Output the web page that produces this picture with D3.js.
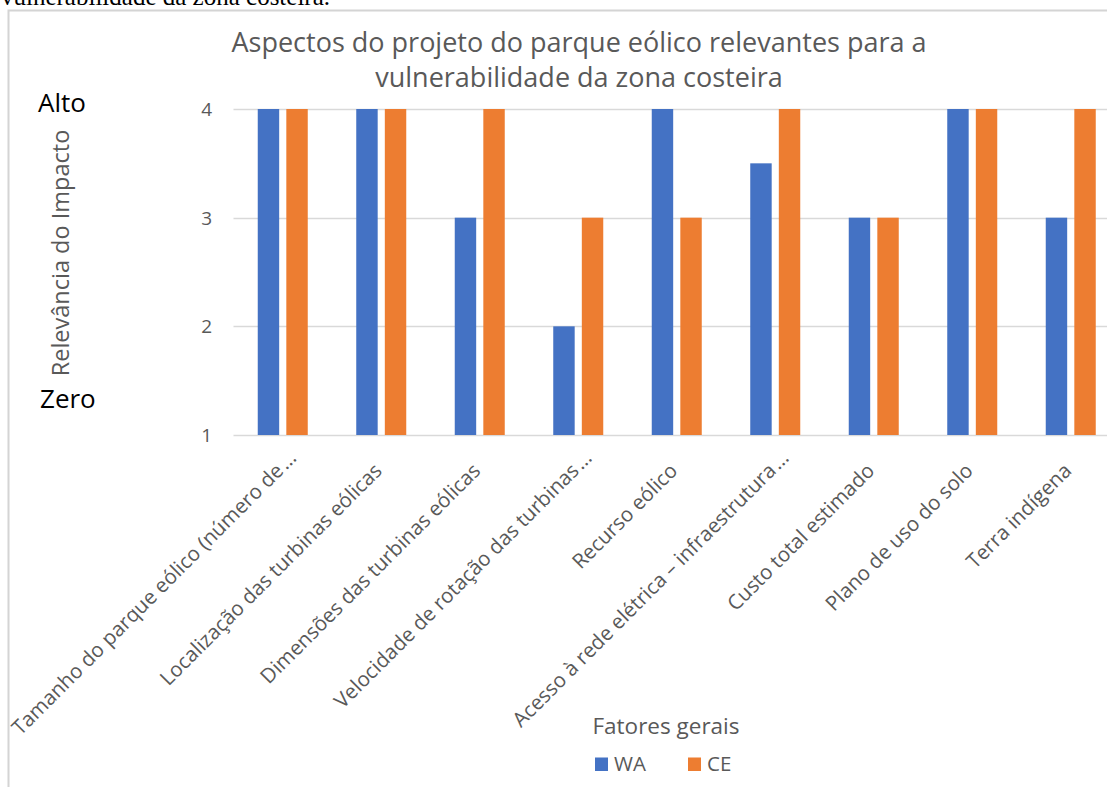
<!DOCTYPE html>
<html>
<head>
<meta charset="utf-8">
<script src="https://cdn.jsdelivr.net/npm/d3@7"></script>
<style>
  html, body { margin: 0; padding: 0; background: #fff; }
  svg { display: block; }
</style>
</head>
<body>
<div id="chart"></div>
<script>
// Data
const categories = [
  'Tamanho do parque eólico (número de...',
  'Localização das turbinas eólicas',
  'Dimensões das turbinas eólicas',
  'Velocidade de rotação das turbinas...',
  'Recurso eólico',
  'Acesso à rede elétrica – infraestrutura...',
  'Custo total estimado',
  'Plano de uso do solo',
  'Terra indígena'
];
const seriesNames = ['WA', 'CE'];
const waValues = [4, 4, 3, 2, 4, 3.5, 3, 4, 3];
const ceValues = [4, 4, 4, 3, 3, 4, 3, 4, 4];
const yTicks = [1, 2, 3, 4];

// Configuration
const config = {
  width: 1107,
  height: 787,
  plot: { left: 233.5, right: 1120, top: 109, bottom: 435 },
  groupWidth: 50,
  colors: { WA: '#4472C4', CE: '#ED7D31' },
  grid: '#d9d9d9',
  text: '#595959',
  font: '"Open Sans", Lato, sans-serif'
};

const svg = d3.select('#chart')
  .append('svg')
  .attr('width', config.width)
  .attr('height', config.height);

// Caption fragment cut off at the top of the picture
svg.append('text')
  .attr('x', 1)
  .attr('y', 5)
  .attr('font-family', '"Liberation Serif", "Times New Roman", serif')
  .attr('font-size', '25px')
  .attr('fill', '#000')
  .text('vulnerabilidade da zona costeira.');

// Chart frame (left and top edges visible)
svg.append('path')
  .attr('d', `M8.5,${config.height} V10.5 H${config.width}`)
  .attr('fill', 'none')
  .attr('stroke', '#d4d4d4')
  .attr('stroke-width', 2);

// Scales
const x0 = d3.scaleBand()
  .domain(categories)
  .range([config.plot.left, config.plot.right])
  .padding(0);

const x1 = d3.scaleBand()
  .domain(seriesNames)
  .range([0, config.groupWidth])
  .paddingInner(0.25);

const y = d3.scaleLinear()
  .domain([1, 4])
  .range([config.plot.bottom, config.plot.top]);

// Gridlines
svg.append('g')
  .selectAll('line')
  .data(yTicks)
  .join('line')
  .attr('x1', config.plot.left)
  .attr('x2', config.plot.right)
  .attr('y1', d => Math.round(y(d)) + 0.5)
  .attr('y2', d => Math.round(y(d)) + 0.5)
  .attr('stroke', config.grid)
  .attr('stroke-width', d => d === 1 ? 1.6 : 1.3);

// Y tick labels
svg.append('g')
  .selectAll('text')
  .data(yTicks)
  .join('text')
  .attr('x', 212)
  .attr('y', d => y(d))
  .attr('text-anchor', 'end')
  .attr('dominant-baseline', 'central')
  .attr('font-family', config.font)
  .attr('font-size', '19px')
  .attr('fill', config.text)
  .text(d => d);

// Bars
const rows = categories.map((c, i) => ({ category: c, WA: waValues[i], CE: ceValues[i] }));
const offset = (x0.bandwidth() - config.groupWidth) / 2;

const groups = svg.append('g')
  .selectAll('g.group')
  .data(rows)
  .join('g')
  .attr('class', 'group')
  .attr('transform', d => `translate(${x0(d.category) + offset},0)`);

groups.selectAll('rect')
  .data(d => seriesNames.map(s => ({ key: s, value: d[s] })))
  .join('rect')
  .attr('x', d => x1(d.key))
  .attr('y', d => y(d.value))
  .attr('width', x1.bandwidth())
  .attr('height', d => y(1) - y(d.value))
  .attr('fill', d => config.colors[d.key]);

// X category labels, rotated; a trailing ellipsis hangs past the anchor point
const labels = svg.append('g')
  .selectAll('g.xlabel')
  .data(categories)
  .join('g')
  .attr('class', 'xlabel')
  .attr('transform', d => `translate(${x0(d) + x0.bandwidth() / 2 + 2},472) rotate(-45)`)
  .attr('font-family', config.font)
  .attr('font-size', '20.5px')
  .attr('fill', config.text);

labels.append('text')
  .attr('text-anchor', 'end')
  .text(d => d.replace(/\.\.\.$/, ''));

labels.filter(d => d.endsWith('...'))
  .append('text')
  .attr('x', 2)
  .text('...');

// Title
const titleLines = ['Aspectos do projeto do parque eólico relevantes para a', 'vulnerabilidade da zona costeira'];
svg.append('g')
  .selectAll('text')
  .data(titleLines)
  .join('text')
  .attr('x', 579)
  .attr('y', (d, i) => 52 + i * 35)
  .attr('text-anchor', 'middle')
  .attr('font-family', config.font)
  .attr('font-size', '27px')
  .attr('fill', config.text)
  .text(d => d);

// Y axis title
svg.append('text')
  .attr('transform', 'translate(69,253) rotate(-90)')
  .attr('text-anchor', 'middle')
  .attr('font-family', config.font)
  .attr('font-size', '23.5px')
  .attr('fill', config.text)
  .text('Relevância do Impacto');

// Scale end annotations
svg.append('text')
  .attr('x', 38)
  .attr('y', 112)
  .attr('font-family', config.font)
  .attr('font-size', '26px')
  .attr('fill', '#000')
  .text('Alto');

svg.append('text')
  .attr('x', 40)
  .attr('y', 408)
  .attr('font-family', config.font)
  .attr('font-size', '26px')
  .attr('fill', '#000')
  .text('Zero');

// X axis title
svg.append('text')
  .attr('x', 666)
  .attr('y', 734)
  .attr('text-anchor', 'middle')
  .attr('font-family', config.font)
  .attr('font-size', '22.5px')
  .attr('fill', config.text)
  .text('Fatores gerais');

// Legend
const legend = svg.append('g')
  .selectAll('g')
  .data(seriesNames)
  .join('g')
  .attr('transform', (d, i) => `translate(${595 + i * 93},757.5)`);

legend.append('rect')
  .attr('width', 13)
  .attr('height', 13.5)
  .attr('fill', d => config.colors[d]);

legend.append('text')
  .attr('x', 19)
  .attr('y', 13.5)
  .attr('font-family', config.font)
  .attr('font-size', '20.5px')
  .attr('fill', config.text)
  .text(d => d);
</script>
</body>
</html>
